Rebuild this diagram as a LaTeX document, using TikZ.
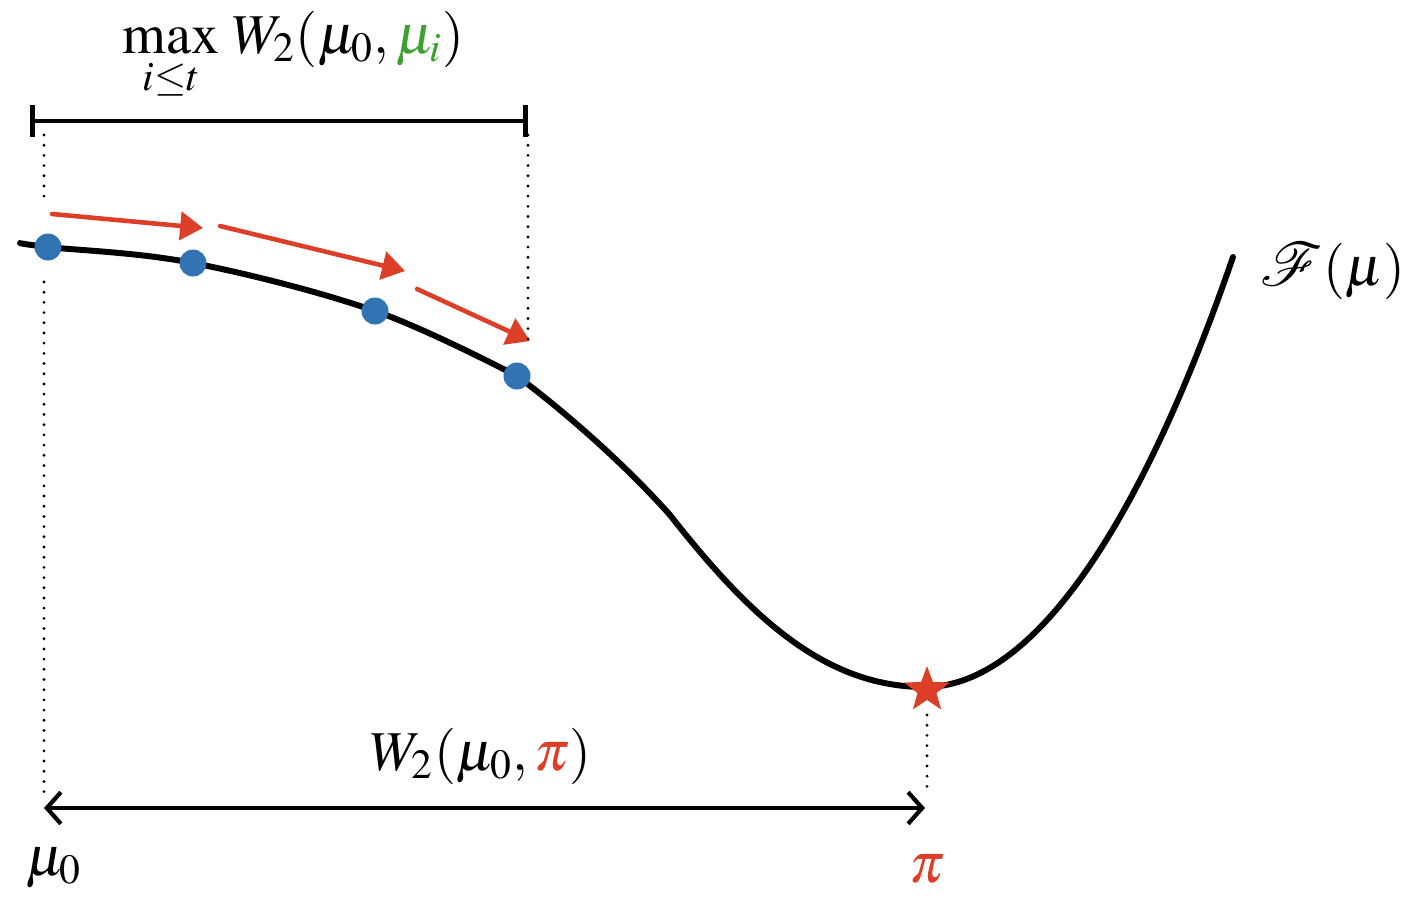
\documentclass[tikz,border=0pt]{standalone}
\usepackage{mathptmx}
\usepackage{mathrsfs}
\usepackage{fontspec}
\setmainfont{Liberation Serif}
\usetikzlibrary{arrows.meta,shapes.geometric}
\definecolor{ptblue}{RGB}{50,115,180}
\definecolor{arrred}{RGB}{221,62,40}
\definecolor{idxgreen}{RGB}{62,160,48}

\begin{document}
\begin{tikzpicture}[line cap=round, line join=round,
    lbl/.style={font=\fontsize{16}{19}\selectfont, inner sep=0pt},
    ptdot/.style={circle, fill=ptblue, minimum size=0.27cm, inner sep=0pt},
    optstar/.style={star, star points=5, star point ratio=2.4, fill=arrred, minimum size=0.48cm, inner sep=0pt},
    dotline/.style={line width=0.9pt, dash pattern=on 0pt off 2.9pt},
    gdarrow/.style={arrred, line width=1.3pt, -{Triangle[length=6.5pt,width=8pt]}},
    span/.style={line width=1.2pt, {Straight Barb[length=4pt,width=9pt]}-{Straight Barb[length=4pt,width=9pt]}},
    bracket/.style={line width=1.3pt, {Bar[width=9pt]}-{Bar[width=9pt]}}]
    \useasboundingbox (0,0) rectangle (14.08,9.02);

    % the objective
    \draw[line width=1.7pt] plot[smooth, tension=0.6] coordinates {(0.20,6.59) (0.48,6.55) (1.93,6.39) (3.75,5.91) (5.17,5.26)}
        .. controls (5.72,4.85) and (6.30,4.32) .. (6.70,3.87);
    \draw[line width=1.7pt] (6.70,3.87) .. controls (7.50,2.85) and (8.25,2.15) .. (9.25,2.15)
        .. controls (10.25,2.15) and (11.33,3.55) .. (12.33,6.45);
    \node[lbl, anchor=base west] (flbl) at (12.60,6.17) {$\mathscr{F}(\mu)$};

    % iterates and minimiser
    \node[ptdot] (p0) at (0.48,6.55) {};
    \node[ptdot] (p1) at (1.93,6.39) {};
    \node[ptdot] (p2) at (3.75,5.91) {};
    \node[ptdot] (p3) at (5.17,5.26) {};
    \node[optstar] (pistar) at (9.27,2.12) {};

    % steps
    \coordinate (s0) at (0.52,6.88);
    \coordinate (s1) at (2.03,6.74);
    \coordinate (s2) at (2.20,6.76);
    \coordinate (s3) at (4.05,6.31);
    \coordinate (s4) at (4.17,6.13);
    \coordinate (s5) at (5.30,5.61);
    \draw[gdarrow] (s0) -- (s1);
    \draw[gdarrow] (s2) -- (s3);
    \draw[gdarrow] (s4) -- (s5);

    % guides
    \coordinate (l0) at (0.44,7.67);
    \coordinate (l1) at (0.44,6.98);
    \coordinate (l2) at (0.44,6.20);
    \coordinate (l3) at (0.44,1.02);
    \coordinate (r0) at (5.28,7.67);
    \coordinate (r1) at (5.28,5.60);
    \coordinate (q0) at (9.27,1.87);
    \coordinate (q1) at (9.27,1.07);
    \draw[dotline] (l0) -- (l1);
    \draw[dotline] (l2) -- (l3);
    \draw[dotline] (r0) -- (r1);
    \draw[dotline] (q0) -- (q1);

    % top bracket
    \coordinate (b0) at (0.30,7.81);
    \coordinate (b1) at (5.28,7.81);
    \draw[bracket] (b0) -- (b1);
    \node[lbl, anchor=base west] (maxlbl) at (1.22,8.49) {$\max\limits_{i\le t}\, W_2(\mu_0,{\color{idxgreen}\mu_i})$};

    % bottom span
    \coordinate (a0) at (0.44,0.94);
    \coordinate (a1) at (9.25,0.94);
    \draw[span] (a0) -- (a1);
    \node[lbl, anchor=base west] (wlbl) at (3.70,1.32) {$W_2(\mu_0,{\color{arrred}\pi})$};
    \node[lbl, anchor=base west] (mulbl) at (0.25,0.27) {$\mu_0$};
    \node[lbl, anchor=base, text=arrred] (pilbl) at (9.27,0.20) {$\pi$};
\end{tikzpicture}
\end{document}
